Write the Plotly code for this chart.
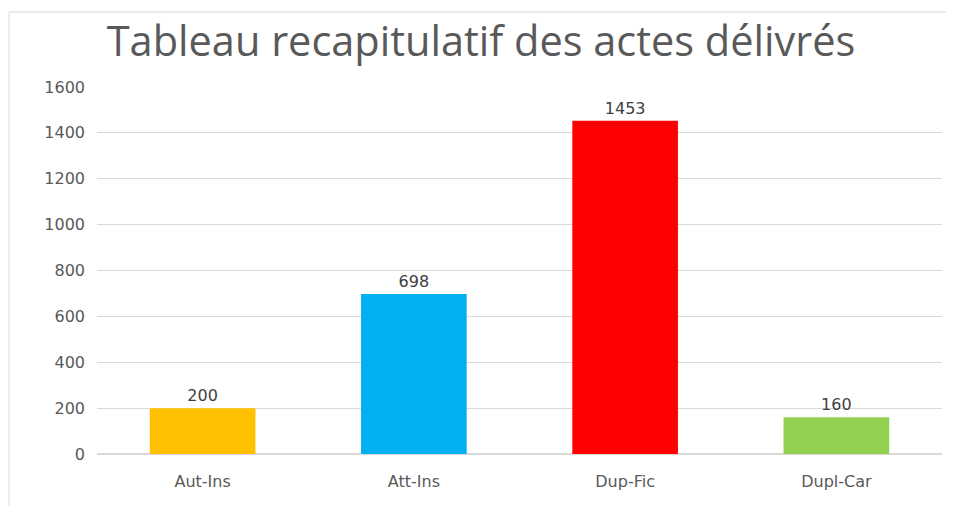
import plotly.graph_objects as go

categories = ["Aut-Ins", "Att-Ins", "Dup-Fic", "Dupl-Car"]
values = [200, 698, 1453, 160]
colors = ["#FFC000", "#00B0F0", "#FF0000", "#92D050"]
y_ticks = [0, 200, 400, 600, 800, 1000, 1200, 1400, 1600]

LABEL_FONT = "DejaVu Sans"
BORDER = dict(color="#D9D9D9", width=1)

fig = go.Figure(go.Bar(
    x=categories, y=values,
    marker=dict(color=colors, line=dict(width=0)),
    width=0.5,
    text=[str(v) for v in values], textposition="outside",
    textfont=dict(size=16, color="#404040", family=LABEL_FONT),
    cliponaxis=False,
))

fig.update_layout(
    width=946, height=498,
    margin=dict(l=89, r=12, t=79, b=52),
    paper_bgcolor="white", plot_bgcolor="white",
    title=dict(text="Tableau recapitulatif des actes délivrés",
               x=0.5, xanchor="center", y=0.932, yanchor="middle",
               font=dict(family="Open Sans", size=41.5, color="#595959")),
    font=dict(family=LABEL_FONT, color="#595959", size=16),
    showlegend=False,
    xaxis=dict(showgrid=False, showline=False, ticks="", tickfont=dict(size=16, color="#595959", family=LABEL_FONT),
               ticklabelstandoff=16),
    yaxis=dict(range=[0, 1600], tickvals=y_ticks, showgrid=True, gridcolor="#D9D9D9",
               gridwidth=1, zeroline=True, zerolinecolor="#D9D9D9", showline=False,
               tickfont=dict(size=16, color="#595959", family=LABEL_FONT), ticklabelstandoff=11),
    shapes=[
        dict(type="line", xref="paper", yref="paper", x0=-0.1041, x1=1.2, y0=1.2044, y1=1.2044,
             line=BORDER, layer="below"),
        dict(type="line", xref="paper", yref="paper", x0=-0.1041, x1=-0.1041, y0=-0.3, y1=1.2044,
             line=BORDER, layer="below"),
    ],
)

fig.write_html("out.html")
